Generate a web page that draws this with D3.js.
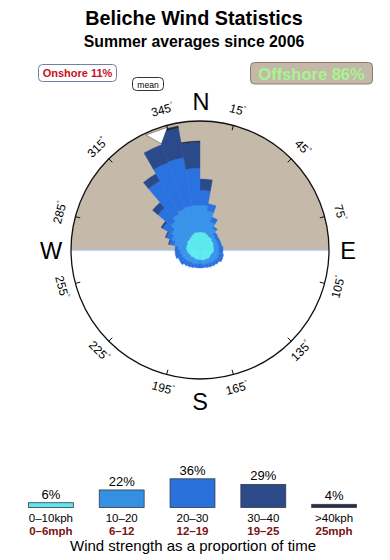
<!DOCTYPE html>
<html>
<head>
<meta charset="utf-8">
<script src="https://cdn.jsdelivr.net/npm/d3@7"></script>
<style>
  body { margin: 0; background: #fff; }
  text { font-family: "Liberation Sans", Arial, Helvetica, sans-serif; }
</style>
</head>
<body>
<div id="chart"></div>
<script>
// Direction sectors (start angle, 10 degree wide) and frequency (% of time) per speed class
var directions = d3.range(0, 360, 10);
var freq0to10  = [1.8,1.8,1.7,1.6,1.6,1.5,1.5,1.4,1.4,1.4,1.3,1.2,1.2,1.2,1.1,1.1,1.1,1.0,1.0,1.0,1.0,1.0,1.0,1.1,1.1,1.2,1.3,1.4,1.4,1.4,1.5,1.5,1.6,1.7,1.8,1.8];
var freq10to20 = [2.7,2.2,1.3,0.9,0.4,0.4,0.4,0.5,0.5,0.5,0.6,0.7,0.6,0.5,0.5,0.4,0.4,0.4,0.4,0.4,0.5,0.5,0.6,0.6,0.7,0.7,0.7,0.8,1.2,1.6,1.8,2.3,2.6,2.7,2.7,2.7];
var freq20to30 = [1.5,0.7,0.5,0.2,0.3,0.3,0.3,0.3,0.4,0.4,0.5,0.5,0.4,0.4,0.4,0.4,0.3,0.4,0.4,0.4,0.4,0.5,0.5,0.6,0.5,0.6,0.5,0.3,0.5,0.6,1.0,1.7,3.8,4.9,4.9,3.7];
var freq30to40 = [1.1,0,0,0,0,0,0,0,0,0,0,0,0,0,0,0,0,0,0,0,0,0,0,0,0,0,0,0,0.1,0.1,0.2,0.7,0.8,1.9,3.0,2.6];
var freqOver40 = [0,0,0,0,0,0,0,0,0,0,0,0,0,0,0,0,0,0,0,0,0,0,0,0,0,0,0,0,0,0,0,0,0,0,0.2,0.1];

// Legend: speed classes and their share of time
var kphLabels = ["0\u201310kph", "10\u201320", "20\u201330", "30\u201340", ">40kph"];
var mphLabels = ["0\u20136mph", "6\u201312", "12\u201319", "19\u201325", "25mph"];
var classShare = [6, 22, 36, 29, 4];
var meanDirection = 340;
var tickAngles = [15, 45, 75, 105, 135, 165, 195, 225, 255, 285, 315, 345];
var cardinals = ["N", "E", "S", "W"];

var roseColors = ["#58ecf0", "#3893ea", "#2a72e0", "#2b4a8c", "#1f2a44"];
var barColors  = ["#5ee6ec", "#3590e2", "#2a71dc", "#2c4a88", "#262e40"];

var width = 390, height = 560;
var cx = 200, cy = 250, R = 129;

var svg = d3.select("#chart").append("svg")
    .attr("width", width)
    .attr("height", height);

// Titles
svg.append("text").attr("x", 194).attr("y", 24.5)
    .attr("text-anchor", "middle").style("font-size", "19.8px").style("font-weight", "bold")
    .text("Beliche Wind Statistics");
svg.append("text").attr("x", 194).attr("y", 46.5)
    .attr("text-anchor", "middle").style("font-size", "15.8px").style("font-weight", "bold")
    .text("Summer averages since 2006");

// Onshore / offshore / mean boxes
svg.append("rect").attr("x", 38.5).attr("y", 64.5).attr("width", 78).attr("height", 17)
    .attr("rx", 4).attr("fill", "#fff").attr("stroke", "#6f82a6");
svg.append("text").attr("x", 77.5).attr("y", 77)
    .attr("text-anchor", "middle").style("font-size", "11px").style("font-weight", "bold")
    .attr("fill", "#c8101e").text("Onshore 11%");

svg.append("rect").attr("x", 132.5).attr("y", 77.5).attr("width", 31).attr("height", 13)
    .attr("rx", 4).attr("fill", "#fff").attr("stroke", "#333");
svg.append("text").attr("x", 148).attr("y", 87.5)
    .attr("text-anchor", "middle").style("font-size", "8.5px").text("mean");

svg.append("rect").attr("x", 250.5).attr("y", 62.5).attr("width", 122).attr("height", 21.5)
    .attr("rx", 4).attr("fill", "#c4b8a9").attr("stroke", "#8a7e70");
svg.append("text").attr("x", 311.5).attr("y", 79.5)
    .attr("text-anchor", "middle").style("font-size", "16.5px").style("font-weight", "bold")
    .attr("fill", "#a6f590").text("Offshore 86%");

// Rose
var rose = svg.append("g").attr("transform", "translate(" + cx + "," + cy + ")");

// offshore half (north side)
rose.append("path")
    .attr("d", d3.arc()({innerRadius: 0, outerRadius: R, startAngle: -Math.PI / 2, endAngle: Math.PI / 2}))
    .attr("fill", "#c5b9aa");

rose.append("line")
    .attr("x1", -R).attr("x2", R).attr("y1", 0).attr("y2", 0)
    .attr("stroke", "#a9c6e2").attr("stroke-width", 1.5);

var r = d3.scaleLinear().domain([0, 12.9]).range([0, R]);
var arc = d3.arc();

var sectors = directions.map(function(dir, i) {
    return {dir: dir, values: [freq0to10[i], freq10to20[i], freq20to30[i], freq30to40[i], freqOver40[i]]};
});

var sectorG = rose.selectAll("g.sector")
    .data(sectors)
    .enter().append("g").attr("class", "sector");

sectorG.selectAll("path")
    .data(function(d) {
        var cum = 0;
        return d.values.map(function(v, k) {
            var seg = {k: k, a0: d.dir, inner: cum, outer: cum + v};
            cum += v;
            return seg;
        }).filter(function(s) { return s.outer > s.inner; });
    })
    .enter().append("path")
    .attr("d", function(s) {
        return arc({innerRadius: r(s.inner), outerRadius: r(s.outer),
                    startAngle: s.a0 * Math.PI / 180, endAngle: (s.a0 + 10) * Math.PI / 180});
    })
    .attr("fill", function(s) { return roseColors[s.k]; })
    .attr("stroke", function(s) { return roseColors[s.k]; })
    .attr("stroke-width", 0.4);

// mean direction marker
var ma = meanDirection * Math.PI / 180;
function polar(angle, rad) { return [rad * Math.sin(angle), -rad * Math.cos(angle)]; }
rose.append("path")
    .attr("d", "M" + polar(ma - 0.09, R - 2) + "L" + polar(ma + 0.09, R - 2) + "L" + polar(ma, R - 16) + "Z")
    .attr("fill", "#fff").attr("stroke", "#444").attr("stroke-width", 0.5);

// outer circle
rose.append("circle").attr("r", R)
    .attr("fill", "none").attr("stroke", "#111").attr("stroke-width", 1.3);

// ticks and degree labels
rose.selectAll("line.tick")
    .data(tickAngles)
    .enter().append("line")
    .attr("class", "tick")
    .attr("x1", function(a) { return polar(a * Math.PI / 180, R)[0]; })
    .attr("y1", function(a) { return polar(a * Math.PI / 180, R)[1]; })
    .attr("x2", function(a) { return polar(a * Math.PI / 180, R - 5)[0]; })
    .attr("y2", function(a) { return polar(a * Math.PI / 180, R - 5)[1]; })
    .attr("stroke", "#111").attr("stroke-width", 1);

var degLabels = rose.selectAll("text.deg")
    .data(tickAngles)
    .enter().append("text")
    .attr("class", "deg")
    .attr("text-anchor", "middle")
    .attr("dominant-baseline", "middle")
    .style("font-size", "12px")
    .attr("transform", function(a) {
        var p = polar(a * Math.PI / 180, 144);
        var rot = a > 180 ? a - 360 : a;
        if (rot > 90) rot -= 180;
        if (rot < -90) rot += 180;
        return "translate(" + p[0] + "," + p[1] + ") rotate(" + rot + ")";
    });
degLabels.append("tspan").text(function(a) { return a; });
degLabels.append("tspan").attr("dy", -4).style("font-size", "7px").text("\u00b0");

// cardinal letters
var cardPos = {N: [201, 110], E: [348, 258.5], S: [200, 410], W: [51, 258.5]};
svg.selectAll("text.card")
    .data(cardinals)
    .enter().append("text")
    .attr("class", "card")
    .attr("x", function(c) { return cardPos[c][0]; })
    .attr("y", function(c) { return cardPos[c][1]; })
    .attr("text-anchor", "middle")
    .style("font-size", "23.5px")
    .text(function(c) { return c; });

// Bottom legend: share of time per speed class
var x = d3.scaleBand().domain(kphLabels).range([15, 370]).paddingInner(0.366).paddingOuter(0.19);
var h = d3.scaleLinear().domain([0, 36]).range([0, 28.7]);
var base = 507.5;

var leg = svg.append("g");
leg.selectAll("rect")
    .data(classShare)
    .enter().append("rect")
    .attr("x", function(d, i) { return x(kphLabels[i]); })
    .attr("y", function(d) { return base - h(d); })
    .attr("width", x.bandwidth())
    .attr("height", function(d) { return h(d); })
    .attr("fill", function(d, i) { return barColors[i]; })
    .attr("stroke", "#333a4a").attr("stroke-width", 0.8);

leg.selectAll("text.pct")
    .data(classShare)
    .enter().append("text")
    .attr("class", "pct")
    .attr("x", function(d, i) { return x(kphLabels[i]) + x.bandwidth() / 2; })
    .attr("y", function(d) { return base - h(d) - 4; })
    .attr("text-anchor", "middle")
    .style("font-size", "13px")
    .text(function(d) { return d + "%"; });

leg.selectAll("text.kph")
    .data(kphLabels)
    .enter().append("text")
    .attr("class", "kph")
    .attr("x", function(d) { return x(d) + x.bandwidth() / 2; })
    .attr("y", 522)
    .attr("text-anchor", "middle")
    .style("font-size", "11.5px")
    .text(function(d) { return d; });

leg.selectAll("text.mph")
    .data(mphLabels)
    .enter().append("text")
    .attr("class", "mph")
    .attr("x", function(d, i) { return x(kphLabels[i]) + x.bandwidth() / 2; })
    .attr("y", 535)
    .attr("text-anchor", "middle")
    .style("font-size", "11.5px").style("font-weight", "bold")
    .attr("fill", "#7a1414")
    .text(function(d) { return d; });

svg.append("text").attr("x", 193).attr("y", 551)
    .attr("text-anchor", "middle").style("font-size", "15px")
    .text("Wind strength as a proportion of time");
</script>
</body>
</html>
